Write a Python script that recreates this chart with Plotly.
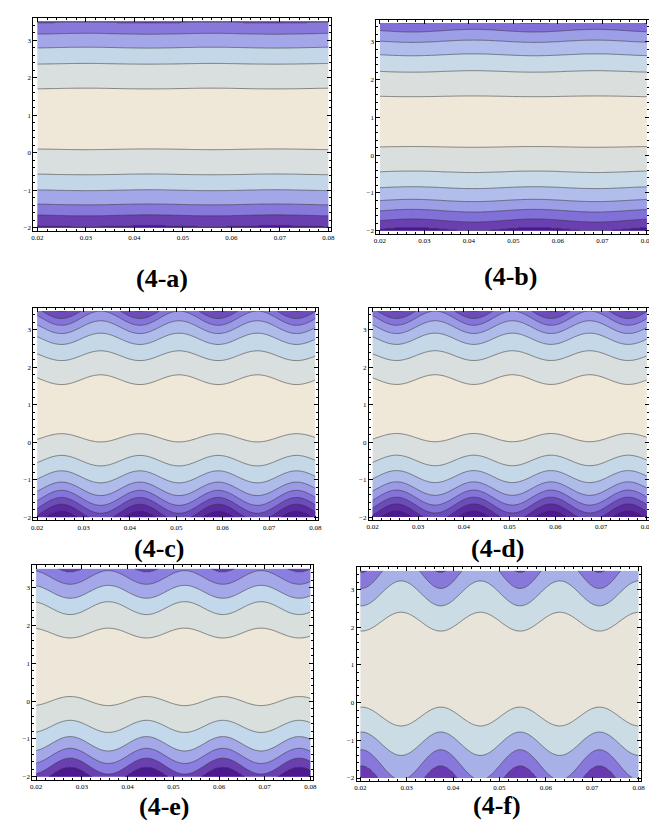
import numpy as np
import plotly.graph_objects as go

# ---------------- data ----------------
X_RANGE_DATA = [0.02, 0.08]
Y_RANGE_DATA = [-2.0, 3.5]
x_tick_vals = [0.02, 0.03, 0.04, 0.05, 0.06, 0.07, 0.08]
x_tick_text = ["0.02", "0.03", "0.04", "0.05", "0.06", "0.07", "0.08"]
y_tick_vals = [-2, -1, 0, 1, 2, 3]
y_tick_text = ["\u22122", "\u22121", "0", "1", "2", "3"]

panel_labels = ["(4-a)", "(4-b)", "(4-c)", "(4-d)", "(4-e)", "(4-f)"]

# centre of the light core, mean y of each contour line above / below it,
# wave amplitude of each line, wavelength and x of widest section
a_center = 0.90
a_upper_mean = [1.71, 2.37, 2.80, 3.17, 3.46]
a_upper_amp = [0.01, 0.01, 0.012, 0.012, 0.014]
a_lower_mean = [0.09, -0.58, -1.00, -1.38, -1.67, -1.95]
a_lower_amp = [0.01, 0.01, 0.012, 0.012, 0.014, 0.014]
a_wave = [0.026, 0.030]

b_center = 0.885
b_upper_mean = [1.56, 2.22, 2.66, 3.02, 3.30, 3.53]
b_upper_amp = [0.01, 0.02, 0.025, 0.03, 0.035, 0.04]
b_lower_mean = [0.22, -0.44, -0.86, -1.20, -1.47, -1.73, -1.95]
b_lower_amp = [0.01, 0.02, 0.025, 0.03, 0.035, 0.04, 0.045]
b_wave = [0.0275, 0.041]

c_center = 0.895
c_upper_mean = [1.67, 2.31, 2.76, 3.07, 3.31, 3.50, 3.69]
c_upper_amp = [0.13, 0.13, 0.15, 0.17, 0.19, 0.20, 0.21]
c_lower_mean = [0.12, -0.49, -0.92, -1.24, -1.48, -1.68, -1.87, -2.06]
c_lower_amp = [0.11, 0.14, 0.16, 0.18, 0.20, 0.21, 0.22, 0.23]
c_wave = [0.0169, 0.0337]

d_center = c_center
d_upper_mean = list(c_upper_mean)
d_upper_amp = list(c_upper_amp)
d_lower_mean = list(c_lower_mean)
d_lower_amp = list(c_lower_amp)
d_wave = [0.0169, 0.0337]

e_center = 0.90
e_upper_mean = [1.80, 2.46, 2.89, 3.27, 3.60]
e_upper_amp = [0.13, 0.17, 0.17, 0.18, 0.19]
e_lower_mean = [0.00, -0.67, -1.13, -1.45, -1.72, -1.95]
e_lower_amp = [0.12, 0.16, 0.19, 0.20, 0.21, 0.21]
e_wave = [0.0167, 0.0358]

f_center = 0.90
f_upper_mean = [2.15, 2.90, 3.45, 3.90]
f_upper_amp = [0.25, 0.33, 0.42, 0.45]
f_lower_mean = [-0.37, -1.09, -1.65, -2.10]
f_lower_amp = [0.25, 0.31, 0.40, 0.43]
f_wave = [0.0171, 0.0288]

# ---------------- styles ----------------
band_colors = {
    "a": ["#EFE7D8", "#D9DFDE", "#C3D7E9", "#A4A7E7", "#8878DC", "#6A40B0", "#4B1890"],
    "b": ["#EFE7D8", "#DADFDD", "#C8D9E8", "#B1BDEA", "#9C9EE6", "#8070D8", "#6A40B0", "#4B1890"],
    "c": ["#EFE7D8", "#D9DFDE", "#C5D8E8", "#AFBCEA", "#9A9AE6", "#8474DA", "#6C4CBA", "#5A2AA0", "#4B1890"],
    "e": ["#EDE7DA", "#D8DFDD", "#C3D8EA", "#A4A8E8", "#8A7EE0", "#6A40B0", "#4B1890"],
    "f": ["#E8E4DA", "#CCDCE4", "#A8B0E8", "#8878DC", "#6A38B0"],
}
band_colors["d"] = band_colors["c"]

# frame boxes in pixels: left, right, top, bottom
W, H = 657, 820
frames = [
    (22.7, 323.3, 10.0, 223.0),
    (369.3, 645.0, 11.7, 226.0),
    (22.7, 310.0, 300.0, 513.0),
    (361.7, 645.0, 300.0, 512.7),
    (21.7, 305.0, 558.0, 772.7),
    (349.3, 636.7, 560.0, 774.0),
]
label_pos = [(153, 271), (505, 269), (150, 541), (492, 541), (155, 799), (491, 798)]

panels = [
    ("a", a_center, a_upper_mean, a_upper_amp, a_lower_mean, a_lower_amp, a_wave),
    ("b", b_center, b_upper_mean, b_upper_amp, b_lower_mean, b_lower_amp, b_wave),
    ("c", c_center, c_upper_mean, c_upper_amp, c_lower_mean, c_lower_amp, c_wave),
    ("d", d_center, d_upper_mean, d_upper_amp, d_lower_mean, d_lower_amp, d_wave),
    ("e", e_center, e_upper_mean, e_upper_amp, e_lower_mean, e_lower_amp, e_wave),
    ("f", f_center, f_upper_mean, f_upper_amp, f_lower_mean, f_lower_amp, f_wave),
]

xs = np.linspace(X_RANGE_DATA[0], X_RANGE_DATA[1], 301)
ys = np.linspace(Y_RANGE_DATA[0], Y_RANGE_DATA[1], 276)


def band_field(center, up_m, up_a, lo_m, lo_a, wave):
    period, x_wide = wave
    up_m, up_a = np.array(up_m), np.array(up_a)
    lo_m, lo_a = np.array(lo_m), np.array(lo_a)
    Z = np.empty((len(ys), len(xs)))
    for j, x in enumerate(xs):
        w = np.cos(2 * np.pi * (x - x_wide) / period)
        up = up_m + up_a * w
        lo = lo_m - lo_a * w
        xp = np.concatenate([[-60.0], lo[::-1], [center], up, [60.0]])
        fp = np.concatenate([[len(lo) + 1], np.arange(len(lo), 0, -1), [0],
                             np.arange(1, len(up) + 1), [len(up) + 1]])
        Z[:, j] = np.interp(ys, xp, fp)
    return Z


fig = go.Figure()
x_pad_range = [0.0192, 0.0805]
y_pad_range = [-2.08, 3.59]

for i, (key, cen, um, ua, lm, la, wave) in enumerate(panels):
    n = i + 1
    Z = band_field(cen, um, ua, lm, la, wave)
    cols = band_colors[key]
    nc = len(cols) - 1
    cscale = [[k / nc, cols[k]] for k in range(nc + 1)]
    fig.add_trace(go.Contour(
        x=xs, y=ys, z=Z,
        xaxis="x" if n == 1 else f"x{n}",
        yaxis="y" if n == 1 else f"y{n}",
        colorscale=cscale, showscale=False,
        contours=dict(start=1, end=nc, size=1, coloring="fill", showlines=True),
        line=dict(color="rgba(55,55,55,0.8)", width=0.7, smoothing=1),
        hoverinfo="skip",
    ))
    L, R, T, B = frames[i]
    ax_common = dict(showline=True, linecolor="black", linewidth=1, mirror="ticks",
                     ticks="inside", ticklen=4, tickwidth=0.8, tickcolor="black",
                     showgrid=False, zeroline=False,
                     tickfont=dict(family="Liberation Serif", size=7, color="black"))
    xa = dict(ax_common, domain=[L / W, R / W], range=x_pad_range,
              tickvals=x_tick_vals, ticktext=x_tick_text,
              anchor="y" if n == 1 else f"y{n}",
              minor=dict(ticks="inside", ticklen=2, dtick=0.002, tick0=0.02,
                         tickcolor="black", showgrid=False))
    ya = dict(ax_common, domain=[1 - B / H, 1 - T / H], range=y_pad_range,
              tickvals=y_tick_vals, ticktext=y_tick_text,
              anchor="x" if n == 1 else f"x{n}",
              minor=dict(ticks="inside", ticklen=2, dtick=0.2, tick0=0,
                         tickcolor="black", showgrid=False))
    fig.layout["xaxis" if n == 1 else f"xaxis{n}"] = xa
    fig.layout["yaxis" if n == 1 else f"yaxis{n}"] = ya
    cx, cy = label_pos[i]
    fig.add_annotation(text=f"<b>{panel_labels[i]}</b>", xref="paper", yref="paper",
                       x=cx / W, y=1 - cy / H, xanchor="center", yanchor="middle",
                       showarrow=False, borderpad=0,
                       font=dict(family="Liberation Serif", size=26, color="black"))

fig.update_layout(width=W, height=H, margin=dict(l=0, r=0, t=0, b=0),
                  paper_bgcolor="white", plot_bgcolor="white", showlegend=False)

fig.write_html("out.html")
